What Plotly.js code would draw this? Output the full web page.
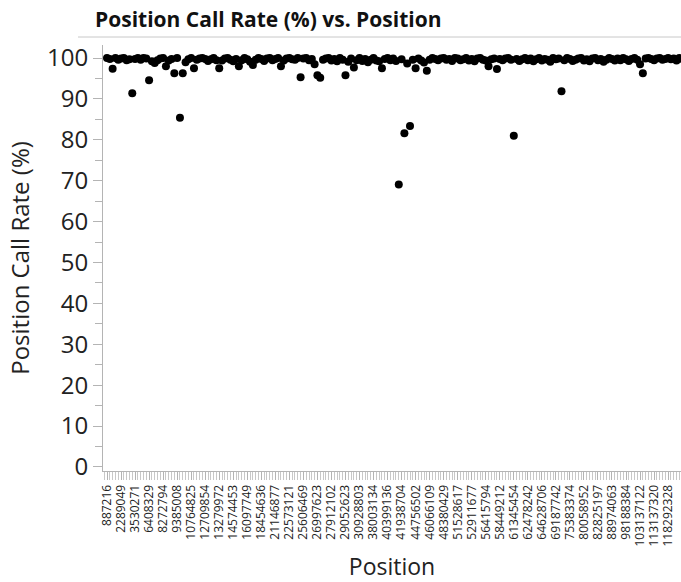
<!DOCTYPE html>
<html>
<head>
<meta charset="utf-8">
<script src="https://cdn.plot.ly/plotly-3.0.1.min.js"></script>
<style>html,body{margin:0;padding:0;overflow:hidden;background:#fff;}</style>
</head>
<body>
<div id="chart" style="width:681px;height:582px;"></div>
<script>
// Tick labels shown on the x axis (every 5th position)
const positionLabels = ["887216","2289049","3530271","6408329","8272794","9385008","10764825","12709854","13279972","14574453","16097749","18454636","21146877","22573121","25606469","26997623","27912102","29052623","30928803","38003134","40399136","41938704","44756502","46066109","48380429","51528617","52911677","56415794","58449212","61345454","62478242","64628706","69187742","75383374","80058952","82825197","88974063","98188384","103137122","113137320","118292328"];
const labelEvery = 5;

// Position call rate (%) for each position, in axis order
const callRate = [
  100, 99.8, 97.4, 100, 99.6, 99.9, 100, 99.5, 99.7, 91.4,
  99.8, 100, 99.6, 100, 99.9, 94.6, 99.2, 98.8, 99.5, 99.9,
  100, 98.0, 99.4, 99.8, 96.3, 100, 85.4, 96.3, 99.0, 99.7,
  100, 97.5, 99.6, 99.9, 100, 99.8, 99.3, 99.7, 100, 99.5,
  97.5, 99.4, 99.9, 100, 99.6, 99.2, 99.8, 98.0, 99.5, 100,
  99.7, 99.1, 98.3, 99.6, 100, 99.8, 99.3, 99.9, 100, 99.5,
  99.8, 100, 98.0, 99.4, 99.9, 100, 99.7, 99.6, 100, 95.3,
  99.9, 100, 99.5, 99.8, 98.5, 95.8, 95.2, 99.6, 99.9, 100,
  99.4, 99.8, 99.2, 100, 99.6, 95.8, 99.1, 99.9, 97.7, 99.5,
  100, 99.3, 99.8, 99.0, 99.6, 100, 99.4, 99.2, 97.5, 99.8,
  100, 99.5, 99.9, 99.3, 69.1, 99.7, 81.6, 98.7, 83.4, 99.6,
  97.5, 99.9, 99.4, 98.9, 96.9, 99.6, 100, 99.8, 99.5, 99.9,
  100, 99.6, 99.8, 99.3, 100, 99.9, 99.5, 99.7, 100, 99.4,
  99.8, 99.2, 99.9, 100, 99.6, 99.4, 98.0, 99.7, 99.9, 97.3,
  99.8, 99.5, 99.9, 100, 99.6, 81.0, 99.8, 99.3, 99.7, 100,
  99.5, 99.9, 99.2, 99.7, 100, 99.4, 99.8, 99.6, 99.1, 100,
  99.7, 99.9, 91.9, 99.5, 100, 99.8, 99.3, 99.6, 99.9, 100,
  99.4, 99.7, 99.2, 99.9, 100, 99.5, 99.8, 99.1, 99.6, 100,
  99.8, 99.4, 99.9, 99.5, 100, 99.7, 99.3, 99.8, 100, 99.6,
  98.5, 96.3, 99.9, 100, 99.8, 99.5, 99.9, 100, 99.6, 99.8,
  100, 99.7, 99.9, 99.4, 100, 99.8
];

const xIndex = callRate.map((_, i) => i);
const tickVals = positionLabels.map((_, k) => k * labelEvery);

const axisGray = '#b4b4b4';
const FONT = 'Open Sans, Noto Sans, sans-serif';

const trace = {
  type: 'scatter',
  mode: 'markers',
  x: xIndex,
  y: callRate,
  marker: {color: '#000', size: 8},
  hoverinfo: 'y'
};

const layout = {
  width: 681, height: 582,
  margin: {l: 103, r: 0, t: 45, b: 111},
  paper_bgcolor: '#fff', plot_bgcolor: '#fff',
  showlegend: false,
  font: {family: FONT, color: '#222'},
  title: {
    text: '<b>Position Call Rate (%) vs. Position</b>',
    font: {family: FONT, size: 21, color: '#111'},
    xref: 'container', x: 95/681, xanchor: 'left',
    yref: 'container', y: 1 - 20/582, yanchor: 'middle'
  },
  xaxis: {
    range: [-1.43, 204.6],
    showgrid: false, zeroline: false,
    showline: true, linecolor: axisGray, linewidth: 1,
    tickmode: 'array', tickvals: tickVals, ticktext: positionLabels,
    ticks: 'outside', ticklen: 8, tickcolor: axisGray, tickwidth: 1,
    tickangle: -90,
    tickfont: {family: FONT, size: 12, color: '#222'},
    minor: {tick0: 0, dtick: 1, ticks: 'outside', ticklen: 8, tickcolor: '#c8c8c8', tickwidth: 1, showgrid: false},
    title: {text: 'Position', font: {family: FONT, size: 23, color: '#222'}, standoff: 18}
  },
  yaxis: {
    range: [-1, 103.2],
    showgrid: false, zeroline: false,
    showline: true, linecolor: axisGray, linewidth: 1,
    tickmode: 'linear', tick0: 0, dtick: 10,
    ticks: 'outside', ticklen: 9, tickcolor: axisGray, tickwidth: 1,
    tickfont: {family: FONT, size: 24, color: '#222'},
    minor: {tick0: 5, dtick: 10, ticks: 'outside', ticklen: 7, tickcolor: axisGray, tickwidth: 1, showgrid: false},
    title: {text: 'Position Call Rate (%)', font: {family: FONT, size: 24, color: '#222'}, standoff: 10}
  },
  shapes: [{
    type: 'line', xref: 'paper', yref: 'paper',
    x0: (78 - 103) / 578, x1: 1, y0: (471 - 37) / 426, y1: (471 - 37) / 426,
    line: {color: '#c8c8c8', width: 1}
  }]
};

Plotly.newPlot('chart', [trace], layout, {displayModeBar: false, staticPlot: true});
</script>
</body>
</html>
